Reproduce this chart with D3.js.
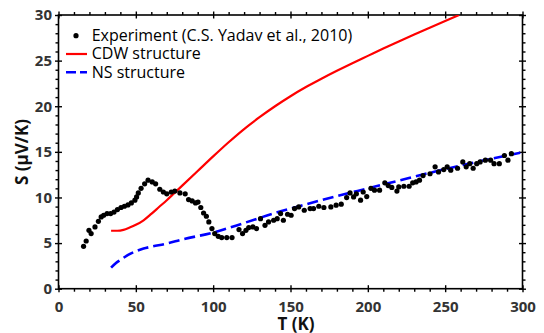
<!DOCTYPE html>
<html><head><meta charset="utf-8">
<script src="https://cdn.jsdelivr.net/npm/d3@7"></script>
<style>body{margin:0;background:#fff}svg{display:block}</style>
</head><body>
<svg id="c" width="544" height="333"></svg>
<script>
// ---- data ----
const expT = [16.2,17.9,19.7,21.1,23.6,25.8,27.6,29.2,31.4,33.7,35.9,38.1,40.4,42.6,44.9,47.1,49.4,50.5,51.6,53.4,55.7,57.9,60.6,62.8,65.5,67.8,70,72.9,75.2,78.5,81.9,84.1,86.4,88.6,90.2,92,93.8,95.6,97.2,99.2,101,103.3,105.5,108.8,112.2,116.7,119,121.2,123,125.7,128,130.6,133.5,135.8,139.1,141.4,143.6,145.4,148.1,150.4,152.6,155.3,158.9,162.7,164.9,168.3,171.6,176.1,179.5,182.8,186.3,188.5,190.8,192.6,195.3,197,199.3,202,204.3,207.6,211,213.2,215.5,218.8,220,223.3,226.7,229,231.2,233.4,235.7,240.2,243.5,245.7,249.1,251.3,253.6,258,261.4,263.6,265.9,268.1,270.4,272.6,276,279.4,281.6,285,288.3,290.6,292.8];
const expS = [4.65,5.23,6.4,6.04,6.77,7.39,7.87,8.05,8.23,8.23,8.4,8.67,8.9,9.04,9.18,9.4,9.7,10.06,10.5,11.0,11.5,11.9,11.7,11.5,10.9,10.6,10.4,10.6,10.7,10.5,10.4,9.77,9.62,9.4,9.5,8.9,8.3,7.94,7.32,6.59,6.04,5.74,5.6,5.6,5.6,6.48,6.04,6.4,6.7,6.77,6.59,7.68,6.95,7.32,7.5,7.68,8.23,7.5,8.16,8.05,8.78,8.96,8.6,8.78,8.78,9.04,8.9,8.96,9.15,9.26,9.99,10.5,10.06,10.4,9.7,10.6,10.1,11.0,10.8,10.8,11.6,11.3,11.1,10.7,11.16,11.23,11.23,11.6,11.7,11.9,12.4,12.6,13.36,12.8,13.06,13.36,12.99,13.2,13.9,13.36,13.7,13.2,13.7,13.9,14.09,14.09,13.7,13.7,14.6,14.09,14.8];

const cdwT = [34,38,42,46,50,55,60,65,70,75,80,90,100,110,120,130,140,150,160,170,180,190,200,210,220,230,240,250,259];
const cdwS = [6.35,6.35,6.45,6.7,7.0,7.5,8.2,8.95,9.7,10.5,11.3,12.9,14.5,16.05,17.5,18.8,20.0,21.1,22.1,23.02,23.89,24.72,25.52,26.32,27.1,27.86,28.61,29.35,30.0];

const nsT = [34,37,40,45,50,55,60,70,80,100,120,140,160,180,200,220,240,260,280,300];
const nsS = [2.3,2.8,3.15,3.7,4.1,4.4,4.6,4.95,5.4,6.15,7.2,8.3,9.25,10.15,11.0,11.85,12.7,13.5,14.25,14.95];

const xMajor = [0,50,100,150,200,250,300];
const yMajor = [0,5,10,15,20,25,30];
const xMinor = d3.range(0,301,10).filter(v => v % 50 !== 0);
const yMinor = d3.range(0,31,1).filter(v => v % 5 !== 0);

const legendLabels = ["Experiment (C.S. Yadav et al., 2010)", "CDW structure", "NS structure"];
const xTitle = "T (K)";
const yTitle = "S (\u03bcV/K)";

// ---- layout ----
const L = 58.5, R = 522.5, T = 15, B = 288.7;
const svg = d3.select("#c");
const x = d3.scaleLinear().domain([0,300]).range([L,R]);
const y = d3.scaleLinear().domain([0,30]).range([B,T]);

const tickFont = "'Open Sans', sans-serif";

function styleAxis(g){
  g.select(".domain").remove();
  g.selectAll("line").attr("stroke","#000").attr("stroke-width",1.4);
}
// bottom
const gb = svg.append("g").attr("transform",`translate(0,${B})`);
gb.call(d3.axisBottom(x).tickValues(xMajor).tickSize(3.5).tickPadding(9).tickFormat(d3.format("d")));
gb.selectAll(".tick line").attr("y1",-3.5);
styleAxis(gb);
gb.selectAll("text").attr("font-family",tickFont).attr("font-weight","bold").attr("font-size",15).attr("fill","#333");
const gbm = svg.append("g").attr("transform",`translate(0,${B})`);
gbm.call(d3.axisBottom(x).tickValues(xMinor).tickSize(3).tickFormat(""));
styleAxis(gbm);
// top
const gt = svg.append("g").attr("transform",`translate(0,${T})`);
gt.call(d3.axisTop(x).tickValues(xMajor).tickSize(3.5).tickFormat(""));
gt.selectAll(".tick line").attr("y1",3.5);
styleAxis(gt);
const gtm = svg.append("g").attr("transform",`translate(0,${T})`);
gtm.call(d3.axisTop(x).tickValues(xMinor).tickSize(3).tickFormat(""));
styleAxis(gtm);
// left
const gl = svg.append("g").attr("transform",`translate(${L},0)`);
gl.call(d3.axisLeft(y).tickValues(yMajor).tickSize(3.5).tickPadding(3).tickFormat(d3.format("d")));
gl.selectAll(".tick line").attr("x1",3.5);
styleAxis(gl);
gl.selectAll("text").attr("font-family",tickFont).attr("font-weight","bold").attr("font-size",15).attr("fill","#333");
const glm = svg.append("g").attr("transform",`translate(${L},0)`);
glm.call(d3.axisLeft(y).tickValues(yMinor).tickSize(3).tickFormat(""));
styleAxis(glm);
// right
const gr = svg.append("g").attr("transform",`translate(${R},0)`);
gr.call(d3.axisRight(y).tickValues(yMajor).tickSize(3.5).tickFormat(""));
gr.selectAll(".tick line").attr("x1",-3.5);
styleAxis(gr);
const grm = svg.append("g").attr("transform",`translate(${R},0)`);
grm.call(d3.axisRight(y).tickValues(yMinor).tickSize(3).tickFormat(""));
styleAxis(grm);

// frame
svg.append("rect").attr("x",L).attr("y",T).attr("width",R-L).attr("height",B-T)
  .attr("fill","none").attr("stroke","#000").attr("stroke-width",1.6);

// curves (clipped to the plot frame)
svg.append("clipPath").attr("id","clip").append("rect").attr("x",L).attr("y",T).attr("width",R-L).attr("height",B-T);
const line = d3.line().x(d=>x(d[0])).y(d=>y(d[1])).curve(d3.curveMonotoneX);
const curves = svg.append("g").attr("clip-path","url(#clip)");
curves.append("path").datum(cdwT.map((t,i)=>[t,cdwS[i]])).attr("d",line)
  .attr("fill","none").attr("stroke","#ff0000").attr("stroke-width",2.2);
curves.append("path").datum(nsT.map((t,i)=>[t,nsS[i]])).attr("d",line)
  .attr("fill","none").attr("stroke","#0000ff").attr("stroke-width",2.6).attr("stroke-dasharray","11,5");

// experiment points
svg.append("g").selectAll("circle").data(expT.map((t,i)=>[t,expS[i]])).join("circle")
  .attr("cx",d=>x(d[0])).attr("cy",d=>y(d[1])).attr("r",2.6).attr("fill","#000");

// legend
const lg = svg.append("g");
const lfont = "'Open Sans', sans-serif";
const rows = [40.7, 59.3, 78];
legendLabels.forEach((s,i)=>{
  lg.append("text").attr("x",91.7).attr("y",rows[i]).text(s)
    .attr("font-family",lfont).attr("font-size",15).attr("fill","#000");
});
const t0 = lg.select("text").node();
const w0 = t0.getComputedTextLength();
const fs = Math.min(16, 15*261/w0);
lg.selectAll("text").attr("font-size",fs);
lg.append("circle").attr("cx",76).attr("cy",35.7).attr("r",2.6).attr("fill","#000");
lg.append("line").attr("x1",66).attr("x2",87).attr("y1",54).attr("y2",54).attr("stroke","#ff0000").attr("stroke-width",2.2);
lg.append("line").attr("x1",66).attr("x2",87).attr("y1",72.3).attr("y2",72.3).attr("stroke","#0000ff").attr("stroke-width",2.6).attr("stroke-dasharray","10,4");

// axis titles
svg.append("text").attr("x",296).attr("y",330).attr("text-anchor","middle").text(xTitle)
  .attr("font-family",tickFont).attr("font-weight","bold").attr("font-size",17).attr("fill","#111");
svg.append("text").attr("transform","translate(28,152) rotate(-90)").attr("text-anchor","middle").text(yTitle)
  .attr("font-family",tickFont).attr("font-weight","bold").attr("font-size",17).attr("fill","#111");
</script>
</body></html>
